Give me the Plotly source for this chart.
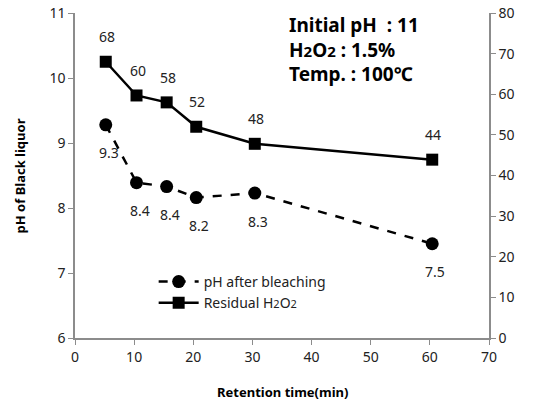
import plotly.graph_objects as go

time_min = [5.2, 10.4, 15.5, 20.5, 30.4, 60.4]
ph_after = [9.28, 8.39, 8.33, 8.16, 8.23, 7.45]
ph_labels = ["9.3", "8.4", "8.4", "8.2", "8.3", "7.5"]
residual_h2o2 = [68, 59.7, 58, 52, 47.8, 43.9]
h2o2_labels = ["68", "60", "58", "52", "48", "44"]

FONT = "Noto Sans"
tick_font = dict(family=FONT, size=14, color="#222")

fig = go.Figure()
fig.add_trace(go.Scatter(
    x=time_min, y=ph_after, name="pH after bleaching",
    mode="lines+markers",
    line=dict(color="black", width=2.5, dash="dash"),
    marker=dict(symbol="circle", size=13, color="black"),
    yaxis="y"))
fig.add_trace(go.Scatter(
    x=time_min, y=residual_h2o2,
    name="Residual H<span style='font-size:11px'>2</span>O<span style='font-size:11px'>2</span>",
    mode="lines+markers",
    line=dict(color="black", width=2.5),
    marker=dict(symbol="square", size=12, color="black"),
    yaxis="y2"))

annotations = []
for xv, yv, lab in zip(time_min, ph_after, ph_labels):
    annotations.append(dict(x=xv, y=yv, xref="x", yref="y", text=lab, showarrow=False,
                            yshift=-28, xshift=3, font=dict(family=FONT, size=14, color="#222")))
for xv, yv, lab in zip(time_min, residual_h2o2, h2o2_labels):
    annotations.append(dict(x=xv, y=yv, xref="x", yref="y2", text=lab, showarrow=False,
                            yshift=25, xshift=1, font=dict(family=FONT, size=14, color="#222")))
annotations.append(dict(
    x=0.513, y=1.008, xref="paper", yref="paper", xanchor="left", yanchor="top",
    align="left", showarrow=False,
    text=("<b>Initial pH  : 11</b><br><b>H<span style='font-size:15px'>2</span>O<span style='font-size:15px'>2</span> : 1.5%</b><br>"
          "<b>Temp. : 100℃</b>"),
    font=dict(family=FONT, size=19, color="black")))
# axis titles
annotations.append(dict(x=0.5, y=-0.165, xref="paper", yref="paper", showarrow=False,
                        text="<b>Retention time(min)</b>", xanchor="center", yanchor="middle",
                        font=dict(family=FONT, size=13, color="black")))
annotations.append(dict(x=-0.133, y=0.5, xref="paper", yref="paper", showarrow=False,
                        text="<b>pH of Black liquor</b>", textangle=-90, xanchor="center", yanchor="middle",
                        font=dict(family=FONT, size=13, color="black")))

axis_common = dict(showline=True, linecolor="#8c8c8c", linewidth=1.5, ticks="outside",
                   ticklen=5, tickcolor="#8c8c8c", showgrid=False, zeroline=False,
                   tickfont=tick_font, automargin=False)

fig.update_layout(
    width=534, height=403,
    margin=dict(l=75, r=45, t=13, b=65),
    paper_bgcolor="white", plot_bgcolor="white",
    showlegend=True,
    legend=dict(x=0.19, y=0.14, xanchor="left", yanchor="middle",
                font=dict(family=FONT, size=14, color="#222"),
                bgcolor="rgba(0,0,0,0)", tracegroupgap=0, itemwidth=40),
    xaxis=dict(range=[0, 70], dtick=10, **axis_common),
    yaxis=dict(range=[6, 11], dtick=1, **axis_common),
    yaxis2=dict(range=[0, 80], dtick=10, overlaying="y", side="right", **axis_common),
    annotations=annotations,
)

fig.write_html("out.html")
